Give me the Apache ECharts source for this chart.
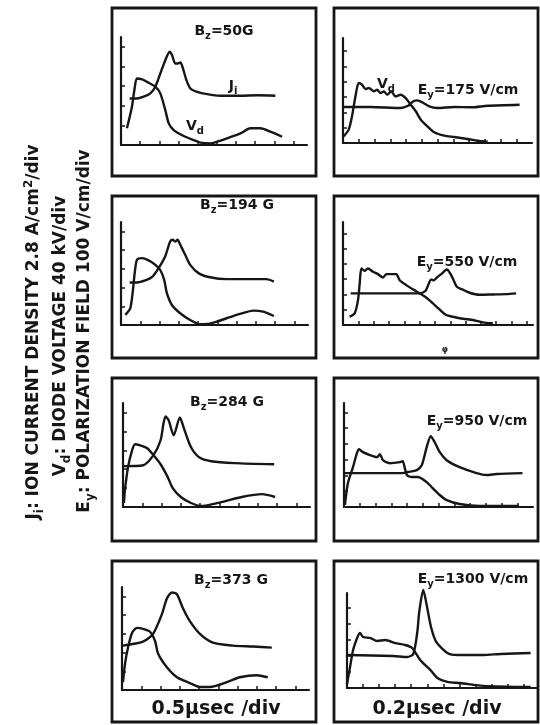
<!DOCTYPE html>
<html><head><meta charset="utf-8">
<script src="https://cdn.jsdelivr.net/npm/echarts@6/dist/echarts.min.js"></script>
<style>html,body{margin:0;padding:0;background:#fff}#c{width:540px;height:725px}</style>
</head><body><div id="c"></div>
<script>
// ---- data (division units: [time div, amplitude div]) ----
const jiB50 = [[0.45,2.37],[0.83,2.37],[1.18,2.46],[1.53,2.63],[1.79,2.97],[2.05,3.64],[2.31,4.32],[2.54,4.75],[2.66,4.58],[2.83,4.15],[2.96,4.15],[3.1,4.2],[3.23,3.9],[3.41,3.31],[3.62,2.88],[3.97,2.71],[4.49,2.59],[5.18,2.51],[6.23,2.51],[7.1,2.53],[8.05,2.51]];
const vdB50 = [[0.31,0.85],[0.57,1.95],[0.71,2.88],[0.83,3.39],[1.1,3.34],[1.44,3.17],[1.79,2.97],[2.05,2.63],[2.31,1.78],[2.49,1.1],[2.75,0.76],[3.27,0.46],[3.79,0.25],[4.14,0.12],[4.66,0.08],[5.01,0.17],[5.53,0.34],[6.23,0.59],[6.75,0.85],[7.27,0.85],[7.79,0.68],[8.4,0.42]];
const jiB194 = [[0.45,2.27],[0.83,2.27],[1.26,2.38],[1.6,2.55],[1.95,3.04],[2.29,3.66],[2.55,4.46],[2.69,4.55],[2.81,4.45],[2.93,4.55],[3.07,4.29],[3.33,3.75],[3.59,3.21],[4.02,2.77],[4.62,2.55],[5.48,2.45],[6.69,2.45],[7.55,2.45],[7.93,2.32]];
const vdB194 = [[0.22,0.54],[0.48,0.89],[0.62,1.88],[0.71,2.77],[0.83,3.48],[1.09,3.57],[1.43,3.45],[1.78,3.21],[2.03,2.95],[2.24,2.41],[2.38,1.7],[2.64,1.07],[3.07,0.63],[3.59,0.27],[4.1,0.04],[4.45,0.05],[4.97,0.18],[5.48,0.36],[6.17,0.59],[6.86,0.77],[7.38,0.71],[7.93,0.48]];
const jiB284 = [[0,2.16],[1.05,2.21],[1.58,2.74],[1.95,3.53],[2.1,4.42],[2.21,4.79],[2.37,4.58],[2.63,3.79],[2.95,4.74],[3.16,4.16],[3.53,3.16],[3.95,2.63],[4.58,2.42],[5.79,2.32],[7.84,2.26]];
const vdB284 = [[0.05,0.21],[0.1,0.89],[0.26,2.1],[0.47,3.0],[0.63,3.32],[0.89,3.26],[1.26,3.11],[1.58,2.74],[1.95,2.26],[2.32,1.58],[2.58,1.0],[3.0,0.53],[3.53,0.21],[4.05,0.05],[5.1,0.26],[6.16,0.53],[7.21,0.68],[7.89,0.53]];
const jiB373 = [[0.05,2.37],[1.09,2.58],[1.61,3.0],[2.07,4.05],[2.33,4.89],[2.59,5.21],[2.85,5.11],[3.16,4.37],[3.52,3.68],[4.04,3.0],[4.72,2.53],[5.75,2.37],[6.79,2.32],[7.77,2.26]];
const vdB373 = [[0.05,0.42],[0.16,1.42],[0.31,2.26],[0.52,3.05],[0.78,3.32],[1.09,3.26],[1.45,3.11],[1.71,2.63],[1.87,1.95],[2.33,1.21],[2.85,0.68],[3.52,0.37],[4.04,0.16],[4.56,0.16],[5.44,0.42],[6.11,0.68],[6.99,0.79],[7.56,0.68]];

const eyE175 = [[0,2.35],[1.74,2.35],[3.66,2.28],[4.13,2.43],[4.47,2.72],[4.72,2.78],[5.04,2.65],[5.47,2.39],[6.0,2.28],[7.06,2.35],[8.13,2.33],[9.19,2.43],[11.21,2.5]];
const vdE175 = [[0.04,0.43],[0.36,0.87],[0.57,1.74],[0.79,3.04],[1.0,3.91],[1.21,3.8],[1.43,3.52],[1.64,3.59],[1.96,3.37],[2.17,3.48],[2.38,3.26],[2.6,3.37],[2.81,3.15],[3.06,3.37],[3.34,3.04],[3.66,3.15],[3.98,2.93],[4.3,2.5],[4.62,2.07],[4.94,1.52],[5.36,1.09],[5.79,0.7],[6.43,0.48],[7.06,0.39],[7.91,0.26],[8.55,0.15],[9.19,0.09]];
const eyE550 = [[0.5,2.07],[2.83,2.07],[5.0,2.07],[5.39,2.24],[5.76,2.98],[5.93,2.93],[6.13,3.11],[6.41,3.33],[6.78,3.63],[7.0,3.37],[7.22,2.93],[7.43,2.5],[7.78,2.33],[8.26,2.11],[8.91,1.98],[9.78,2.0],[10.65,2.02],[11.3,2.07]];
const vdE550 = [[0.43,0.54],[0.76,0.76],[0.98,1.63],[1.09,2.72],[1.2,3.7],[1.41,3.54],[1.63,3.7],[1.96,3.48],[2.28,3.33],[2.61,3.11],[2.83,3.33],[3.15,3.33],[3.48,3.33],[3.7,2.93],[4.13,2.61],[4.57,2.33],[5.0,2.07],[5.43,1.8],[5.87,1.41],[6.3,1.02],[6.74,0.65],[7.17,0.54],[7.83,0.41],[8.48,0.33],[9.13,0.17],[9.78,0.11]];
const eyE950 = [[0,2.15],[3.73,2.15],[4.05,2.22],[4.62,2.34],[4.94,2.66],[5.25,3.8],[5.51,4.49],[5.76,4.11],[6.08,3.48],[6.52,2.97],[7.34,2.53],[8.42,2.15],[9.05,2.03],[9.68,2.09],[11.33,2.15]];
const vdE950 = [[0.06,0.13],[0.25,1.52],[0.57,2.53],[0.82,3.42],[0.95,3.67],[1.2,3.48],[1.65,3.29],[2.09,3.16],[2.28,3.35],[2.47,2.97],[2.91,2.78],[3.54,2.85],[3.73,2.91],[3.86,2.47],[3.99,2.03],[4.3,1.9],[4.68,1.9],[5.25,1.58],[5.63,1.2],[6.08,0.76],[6.52,0.44],[7.34,0.19],[8.61,0.06],[11.1,0.06]];
const eyE1300 = [[0,2.06],[2.88,2.0],[3.75,1.94],[4.13,2.13],[4.38,3.5],[4.5,4.75],[4.75,6.13],[5.0,5.0],[5.25,3.75],[5.56,2.88],[6.25,2.19],[6.88,2.06],[8.5,2.06],[9.56,2.13],[11.44,2.19]];
const vdE1300 = [[0,0.25],[0.19,1.31],[0.38,2.38],[0.63,3.13],[0.81,3.44],[1.0,3.19],[1.44,3.13],[1.88,2.94],[2.38,3.0],[3.0,2.81],[3.63,2.69],[4.06,2.5],[4.56,1.75],[5.19,1.13],[5.63,0.63],[6.25,0.38],[7.06,0.31],[8.5,0.13],[11.44,0.06]];

const leftTitles = [['B','z','=50G'],['B','z','=194 G'],['B','z','=284 G'],['B','z','=373 G']];
const rightTitles = [['E','y','=175 V/cm'],['E','y','=550 V/cm'],['E','y','=950 V/cm'],['E','y','=1300 V/cm']];
const timeLabels = ['0.5\u03bcsec /div','0.2\u03bcsec /div'];

// ---- layout ----
const panels = [
  {l:121,t:37,w:186,h:108,xm:9.7,ym:5.5,xt:[1,2,3,4,5,6,7,8,9],yt:[1,2,3,4,5],a:jiB50,b:vdB50},
  {l:121,t:222,w:187,h:103,xm:9.7,ym:5.5,xt:[1,2,3,4,5,6,7,8,9],yt:[1,2,3,4,5],a:jiB194,b:vdB194},
  {l:123,t:403,w:187,h:104,xm:9.7,ym:5.5,xt:[1,2,3,4,5,6,7,8,9],yt:[1,2,3,4,5],a:jiB284,b:vdB284},
  {l:122,t:587,w:187,h:103,xm:9.7,ym:5.5,xt:[1,2,3,4,5,6,7,8,9],yt:[1,2,3,4,5],a:jiB373,b:vdB373},
  {l:343,t:38,w:189,h:105,xm:12.0,ym:6.85,xt:[1,2,3,4,5,6,7,8,9,10,11],yt:[1,2,3,4,5,6],a:eyE175,b:vdE175},
  {l:343,t:222,w:190,h:103,xm:12.4,ym:6.74,xt:[1,2,3,4,5,6,7,8,9,10,11,12],yt:[1,2,3,4,5,6],a:eyE550,b:vdE550},
  {l:344,t:403,w:189,h:104,xm:12.0,ym:6.6,xt:[1,2,3,4,5,6,7,8,9,10,11],yt:[1,2,3,4,5,6],a:eyE950,b:vdE950},
  {l:347,t:593,w:191,h:95,xm:11.9,ym:5.94,xt:[1,2,3,4,5,6,7,8,9,10,11],yt:[1,2,3,4,5],a:eyE1300,b:vdE1300}
];
const INK = '#161616';
const FF = 'DejaVu Sans';

const grid = [], xAxis = [], yAxis = [], series = [];
panels.forEach((p,i)=>{
  grid.push({left:p.l, top:p.t, width:p.w, height:p.h});
  const ax = (max, ticks) => ({gridIndex:i, type:'value', min:0, max:max,
    axisLine:{show:true, onZero:false, lineStyle:{color:INK, width:2.2}},
    axisTick:{show:true, inside:true, length:4, customValues:ticks, lineStyle:{color:INK, width:1.5}},
    axisLabel:{show:false}, splitLine:{show:false}});
  xAxis.push(ax(p.xm, p.xt));
  yAxis.push(ax(p.ym, p.yt));
  [p.a, p.b].forEach(d=>series.push({type:'line', xAxisIndex:i, yAxisIndex:i, data:d,
    showSymbol:false, symbol:'none', smooth:0.25, clip:false, silent:true,
    lineStyle:{color:INK, width:2.4}}));
});

function rich(size){
  const s = Math.round(size*0.68);
  return {
    n:{fontFamily:FF, fontWeight:'bold', fontSize:size, lineHeight:size+6, fill:INK},
    s:{fontFamily:FF, fontWeight:'bold', fontSize:s, lineHeight:s, verticalAlign:'bottom', fill:INK},
    p:{fontFamily:FF, fontWeight:'bold', fontSize:s, lineHeight:s, verticalAlign:'top', fill:INK}
  };
}
function txt(x, y, str, size, rot){
  return {type:'text', x:x, y:y, rotation:rot||0, silent:true,
    style:{text:str, align:'center', verticalAlign:'middle', rich:rich(size)}};
}
const g = [];
// panel boxes
[[8,176],[196,358],[378,541],[561,722]].forEach(r=>{
  [112,334].forEach(x=>g.push({type:'rect', silent:true, shape:{x:x, y:r[0], width:204, height:r[1]-r[0]},
    style:{fill:'none', stroke:INK, lineWidth:2.8}}));
});
const lt = [[224,31],[237,205],[227,402],[231,580]];
leftTitles.forEach((t,i)=>g.push(txt(lt[i][0], lt[i][1], `{n|${t[0]}}{s|${t[1]}}{n|${t[2]}}`, 14)));
const rtp = [[468,90],[467,262],[477,421],[473,579]];
rightTitles.forEach((t,i)=>g.push(txt(rtp[i][0], rtp[i][1], `{n|${t[0]}}{s|${t[1]}}{n|${t[2]}}`, 14)));
g.push(txt(233, 86, '{n|J}{s|i}', 14));
g.push(txt(195, 126, '{n|V}{s|d}', 14));
g.push(txt(386, 84, '{n|V}{s|d}', 14));
g.push(txt(445, 350, '{s|\u03c6}', 12));
g.push(txt(216, 709, `{n|${timeLabels[0]}}`, 19));
g.push(txt(437, 709, `{n|${timeLabels[1]}}`, 19));
// rotated axis legends
g.push(txt(34, 332, '{n|J}{s|i}{n|: ION CURRENT DENSITY 2.8 A/cm}{p|2}{n|/div}', 17, Math.PI/2));
g.push(txt(61, 336, '{n|V}{s|d}{n|: DIODE VOLTAGE 40 kV/div}', 17, Math.PI/2));
g.push(txt(85, 331, '{n|E}{s|y}{n|: POLARIZATION FIELD 100 V/cm/div}', 17, Math.PI/2));

const chart = echarts.init(document.getElementById('c'), null, {renderer:'canvas'});
chart.setOption({animation:false, backgroundColor:'#fff', grid, xAxis, yAxis, series, graphic:{elements:g}});
</script></body></html>
